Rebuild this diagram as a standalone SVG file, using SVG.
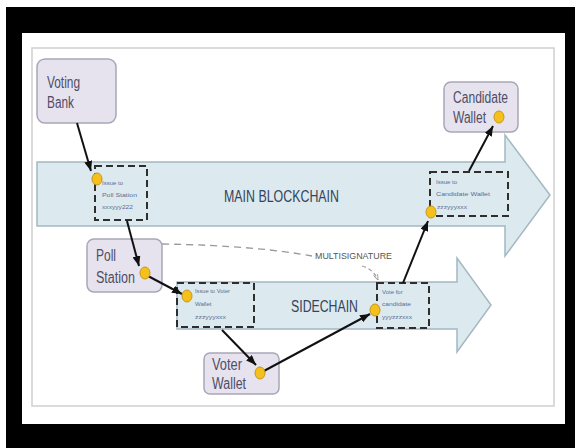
<svg xmlns="http://www.w3.org/2000/svg" width="575" height="448" viewBox="0 0 575 448">
<style>
.node rect{fill:#e6e3ee;stroke:#a9a6b8;stroke-width:1.5}
.lbl{font-family:"Liberation Sans Narrow","Liberation Sans",Arial,sans-serif;font-size:16px;fill:#4f4d66}
.chain{fill:#dce9ee;stroke:#a3b8c2;stroke-width:1.5}
.ctitle{font-family:"Liberation Sans Narrow","Liberation Sans",Arial,sans-serif;font-size:16px;fill:#34445a}
.tx{fill:none;stroke:#2e2e2e;stroke-width:2;stroke-dasharray:7 4}
.small{font-family:"Liberation Sans",Arial,sans-serif;font-size:6px;fill:#5b6f95}
.dot{fill:#f4c11c;stroke:#c99418;stroke-width:1}
.conn{stroke:#111;stroke-width:2;fill:none;marker-end:url(#ah)}
.multi{stroke:#9a9a9a;stroke-width:1.3;fill:none;stroke-dasharray:7 5}
</style>
<defs>
<marker id="ah" viewBox="0 0 10 8" refX="10" refY="4" markerWidth="10" markerHeight="8" markerUnits="userSpaceOnUse" orient="auto">
<path d="M0,0 L10,4 L0,8 z" fill="#111"/>
</marker>
<marker id="ahg" viewBox="0 0 10 8" refX="10" refY="4" markerWidth="6" markerHeight="5" markerUnits="userSpaceOnUse" orient="auto">
<path d="M0,0 L10,4 L0,8" fill="none" stroke="#9a9a9a" stroke-width="1.5"/>
</marker>
</defs>
<rect x="0" y="0" width="575" height="448" fill="#ffffff"/>
<rect x="6" y="7" width="569" height="441" fill="#000000"/>
<rect x="22" y="33" width="543" height="391" fill="#ffffff"/>
<rect x="32" y="48" width="522" height="358" fill="none" stroke="#cfcfcf" stroke-width="1.5"/>

<g id="main-blockchain">
<polygon class="chain" points="37,162 505,162 505,135 550,195 505,256 505,226 37,226"/>
<text class="ctitle" x="224" y="202" textLength="115" lengthAdjust="spacingAndGlyphs">MAIN BLOCKCHAIN</text>
</g>
<g id="sidechain">
<polygon class="chain" points="177,282 457,282 457,258 491,305 457,352 457,329 177,329"/>
<text class="ctitle" x="291" y="312" textLength="67" lengthAdjust="spacingAndGlyphs">SIDECHAIN</text>
</g>

<g id="tx-issue-poll">
<rect class="tx" x="95" y="166" width="52" height="54"/>
<text class="small" x="102" y="185">Issue to</text>
<text class="small" x="102" y="197" textLength="35" lengthAdjust="spacingAndGlyphs">Poll Station</text>
<text class="small" x="102" y="209" textLength="31" lengthAdjust="spacingAndGlyphs">xxxyyy222</text>
</g>
<g id="tx-issue-candidate">
<rect class="tx" x="430" y="172" width="78" height="44"/>
<text class="small" x="436" y="184">Issue to</text>
<text class="small" x="436" y="196" textLength="54" lengthAdjust="spacingAndGlyphs">Candidate Wallet</text>
<text class="small" x="437" y="209" textLength="30" lengthAdjust="spacingAndGlyphs">zzzyyyxxx</text>
</g>
<g id="tx-issue-voter">
<rect class="tx" x="177" y="283" width="77" height="44"/>
<text class="small" x="195" y="293" textLength="35" lengthAdjust="spacingAndGlyphs">Issue to Voter</text>
<text class="small" x="195" y="306">Wallet</text>
<text class="small" x="195" y="319" textLength="31" lengthAdjust="spacingAndGlyphs">zzzyyyxxx</text>
</g>
<g id="tx-vote">
<rect class="tx" x="377" y="283" width="52" height="45"/>
<text class="small" x="382" y="294">Vote for</text>
<text class="small" x="382" y="306" textLength="29" lengthAdjust="spacingAndGlyphs">candidate</text>
<text class="small" x="382" y="319" textLength="30" lengthAdjust="spacingAndGlyphs">yyyzzzxxx</text>
</g>

<g id="voting-bank" class="node">
<rect x="37" y="59" width="79" height="64" rx="8"/>
<text class="lbl" x="47" y="88" textLength="33" lengthAdjust="spacingAndGlyphs">Voting</text>
<text class="lbl" x="47" y="108" textLength="27" lengthAdjust="spacingAndGlyphs">Bank</text>
</g>
<g id="candidate-wallet" class="node">
<rect x="444" y="82" width="74" height="50" rx="7"/>
<text class="lbl" x="453" y="103" textLength="55" lengthAdjust="spacingAndGlyphs">Candidate</text>
<text class="lbl" x="453" y="123" textLength="33" lengthAdjust="spacingAndGlyphs">Wallet</text>
</g>
<g id="poll-station" class="node">
<rect x="87" y="239" width="75" height="53" rx="7"/>
<text class="lbl" x="96" y="261" textLength="20" lengthAdjust="spacingAndGlyphs">Poll</text>
<text class="lbl" x="96" y="283" textLength="39" lengthAdjust="spacingAndGlyphs">Station</text>
</g>
<g id="voter-wallet" class="node">
<rect x="204" y="353" width="75" height="41" rx="6"/>
<text class="lbl" x="212" y="370" textLength="30" lengthAdjust="spacingAndGlyphs">Voter</text>
<text class="lbl" x="212" y="389" textLength="34" lengthAdjust="spacingAndGlyphs">Wallet</text>
</g>

<g id="multisignature">
<path class="multi" d="M162,244 C230,245 280,250 312,256"/>
<text x="315" y="259" font-family="Liberation Sans Narrow,Liberation Sans,Arial,sans-serif" font-size="9" fill="#555555" textLength="77" lengthAdjust="spacingAndGlyphs">MULTISIGNATURE</text>
<path d="M362,266 Q373,269 378,280" fill="none" stroke="#9a9a9a" stroke-width="1.2" stroke-dasharray="4 3" marker-end="url(#ahg)"/>
</g>

<g id="connectors">
<line class="conn" x1="77" y1="123" x2="91" y2="171"/>
<line class="conn" x1="127" y1="221" x2="139" y2="266"/>
<line class="conn" x1="148" y1="276" x2="182" y2="294"/>
<line class="conn" x1="222" y1="330" x2="256" y2="365"/>
<line class="conn" x1="262" y1="372" x2="370" y2="314"/>
<line class="conn" x1="403" y1="283" x2="428" y2="221"/>
<line class="conn" x1="469" y1="171" x2="493" y2="126"/>
</g>

<g id="ports">
<ellipse class="dot" cx="97" cy="179" rx="5" ry="6"/>
<ellipse class="dot" cx="431" cy="212" rx="5" ry="6"/>
<ellipse class="dot" cx="187" cy="296" rx="5" ry="6"/>
<ellipse class="dot" cx="375" cy="310" rx="5" ry="6"/>
<ellipse class="dot" cx="145" cy="273" rx="5" ry="6"/>
<ellipse class="dot" cx="260" cy="373" rx="5" ry="6"/>
<ellipse class="dot" cx="499" cy="117" rx="5" ry="6"/>
</g>
</svg>
